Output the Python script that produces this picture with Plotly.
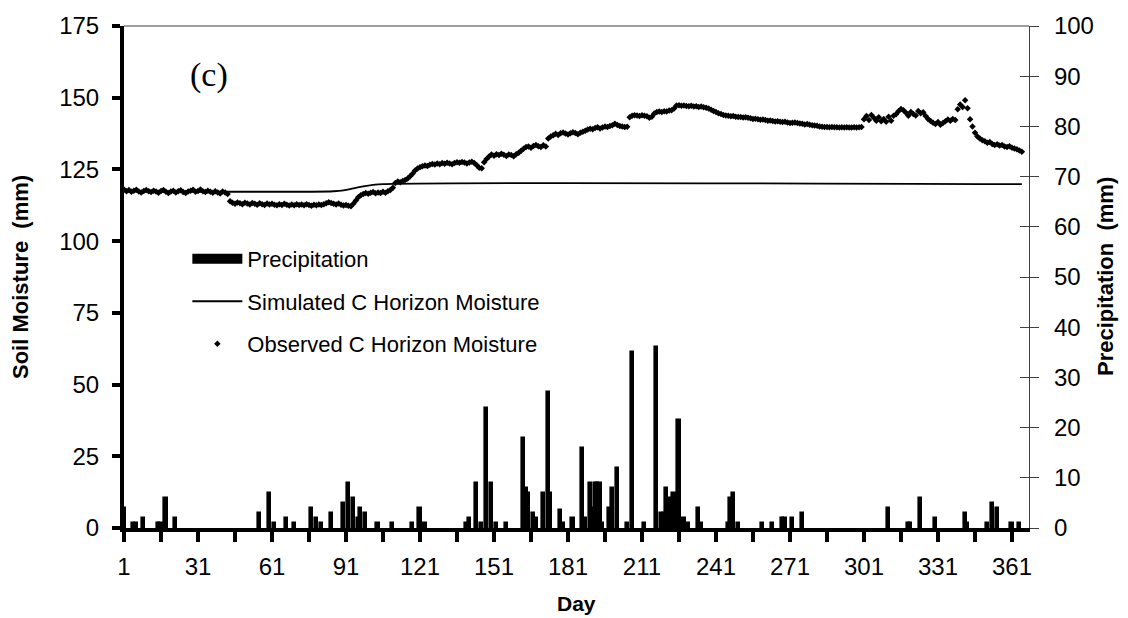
import plotly.graph_objects as go

# ---------------- data ----------------
precip_days = [1, 5, 6, 9, 15, 16, 18, 22, 56, 60, 62, 67, 70, 77, 79, 81, 85, 90, 92, 94,
               96, 97, 99, 104, 110, 118, 121, 123, 140, 141, 144, 146, 148, 150, 152, 156,
               163, 164, 165, 167, 168, 171, 173, 174, 178, 179, 183, 187, 188, 190, 191,
               192, 193, 194, 195, 198, 199, 201, 205, 207, 212, 217, 219, 220, 221, 222,
               224, 226, 228, 230, 234, 235, 246, 247, 248, 250, 260, 264, 268, 269, 272,
               276, 311, 319, 320, 324, 330, 342, 343, 351, 353, 355, 361, 364]
precip_mm = [4, 1, 1, 2, 1, 1, 6, 2, 3, 7, 1, 2, 1, 4, 2, 1, 3, 5, 9, 6,
             2, 4, 3, 1, 1, 1, 4, 1, 1, 2, 9, 1, 24, 9, 1, 1,
             18, 8, 7, 3, 2, 7, 27, 7, 3.5, 1, 2, 16, 2, 9, 4,
             9, 9, 9, 1, 4, 8, 12, 1, 35, 1, 36, 3, 3, 8, 6,
             7, 21.5, 2, 1, 4, 1, 1, 6, 7, 1, 1, 1, 2, 2, 2,
             3, 4, 1, 1, 6, 2, 3, 1, 1, 5, 4, 1, 1]

sim_days = [1, 86, 90, 94, 98, 102, 106, 365]
sim_moisture = [117.4, 117.4, 117.7, 118.4, 119.1, 119.6, 119.9, 119.9]

observed_moisture = [
    118.0, 117.4, 117.8, 117.2, 117.6, 117.9, 117.3, 117.0, 117.5, 117.8,
    117.4, 117.1, 117.6, 117.3, 116.9, 117.5, 117.8, 117.2, 116.8, 117.3,
    117.6, 117.0, 117.4, 117.7, 117.1, 116.8, 117.3, 117.6, 117.9, 117.2,
    117.5, 118.0, 117.4, 117.1, 117.6, 117.2, 116.9, 117.4, 117.0, 116.6,
    117.3, 117.0, 116.4,
    113.9, 113.4, 113.0, 113.5, 113.2, 112.9, 113.4, 113.1, 112.8, 113.3,
    113.0, 112.7, 113.2, 112.9, 112.6, 113.1, 112.8, 113.0, 112.7, 112.5,
    112.9, 112.6, 113.0, 112.7, 112.4, 112.8, 112.5, 112.9, 112.6, 112.8,
    112.5, 112.9, 112.6, 112.3, 112.7, 112.5, 112.8, 112.6, 112.9, 113.2,
    113.6, 113.3, 113.0, 112.8, 113.1, 112.7, 112.4, 112.6, 112.3, 112.2,
    113.0, 114.2, 115.3, 116.0, 116.4, 116.8, 116.5, 116.9, 117.1, 116.7,
    117.0, 116.8, 117.2, 116.9, 117.4, 117.8, 118.6,
    120.3, 120.8, 120.5, 121.0, 121.3, 121.8, 122.6, 123.5, 124.6, 125.3,
    125.8, 126.1, 126.4, 126.2, 126.6, 126.9, 126.7, 127.1, 126.8, 127.2,
    127.0, 127.3, 127.1, 126.8, 127.2, 127.5, 127.3, 127.6, 127.4, 127.1,
    127.4, 127.7, 127.2, 126.5, 125.6, 125.4,
    127.5, 128.6, 129.5, 130.2, 129.8, 130.3, 130.0, 130.5, 130.1, 129.7,
    130.2, 130.0, 129.6, 130.3, 130.8, 131.5,
    132.2, 132.8, 133.0, 132.6, 133.2, 133.5, 133.1, 132.8, 133.4, 133.0,
    135.8, 136.5, 136.9, 137.4, 137.0, 137.6, 137.9, 137.5, 137.2, 137.6,
    138.0, 137.7, 137.3, 137.8, 138.1,
    138.5, 138.9, 139.2, 139.0, 139.4, 139.7, 139.3, 139.6, 140.0, 139.8,
    140.1, 140.4, 140.9, 140.5, 140.1, 140.0, 139.8, 139.9,
    143.2, 143.7, 143.9, 143.8, 143.6, 143.9, 143.7, 143.5, 143.0, 143.4,
    144.5, 145.0, 145.2, 145.0, 145.3, 145.2, 145.5, 145.6, 146.2, 147.3,
    147.4, 147.2, 147.3, 147.1, 147.0, 147.2, 146.9, 147.0, 146.8, 146.9,
    146.7, 146.5,
    146.2, 145.8, 145.4, 145.0, 144.6, 144.3, 144.0, 143.8, 143.7, 143.5,
    143.6, 143.4, 143.3,
    143.3, 143.1, 143.2, 143.0, 142.8, 142.6, 142.7, 142.5, 142.3, 142.4,
    142.2, 142.0, 142.1, 141.9, 141.7, 141.8, 141.6, 141.5, 141.6, 141.4,
    141.2,
    141.3, 141.4, 141.2, 141.0, 140.9, 140.7, 140.8, 140.6, 140.4, 140.3,
    140.2, 140.0,
    139.9, 139.8, 139.8, 139.7, 139.8, 139.7, 139.7, 139.6, 139.7, 139.6,
    139.7, 139.6, 139.6, 139.7, 139.6, 139.7, 139.8,
    142.5, 143.6, 142.2, 144.0, 143.0, 142.0, 143.2, 141.8, 142.6, 141.6,
    143.4, 142.0, 143.7,
    144.2, 145.3, 146.1, 145.6, 144.8, 143.7, 145.0, 144.3, 143.8, 145.4,
    144.6, 144.9, 143.6,
    142.6, 141.9, 141.3, 140.8, 141.5, 140.6, 141.2, 141.8, 142.4, 142.0,
    142.6, 142.2,
    146.0, 147.6, 146.8, 149.1, 146.3, 142.5, 140.0, 137.8, 136.5, 135.8,
    135.2, 134.8, 134.3, 134.6, 133.9, 133.5, 133.8, 133.3, 133.5, 133.0,
    132.8, 133.1, 132.6, 132.3, 132.0, 131.6, 131.2,
]
observed_days = list(range(1, len(observed_moisture) + 1))

x_tick_days = [1, 16, 31, 46, 61, 76, 91, 106, 121, 136, 151, 166, 181, 196, 211,
               226, 241, 256, 271, 286, 301, 316, 331, 346, 361]
x_tick_labels = ["1", "", "31", "", "61", "", "91", "", "121", "", "151", "", "181", "",
                 "211", "", "241", "", "271", "", "301", "", "331", "", "361"]
left_ticks = [0, 25, 50, 75, 100, 125, 150, 175]
right_ticks = [0, 10, 20, 30, 40, 50, 60, 70, 80, 90, 100]

FONT = "Liberation Sans, Arial, sans-serif"
TICK_SIZE = 24

fig = go.Figure()

fig.add_trace(go.Bar(
    x=precip_days, y=precip_mm, yaxis="y2", name="Precipitation",
    width=1.3, marker=dict(color="black", line=dict(color="black", width=1.6)),
    showlegend=False,
))
# legend entry for the bars, drawn as a thick block like the original
fig.add_trace(go.Scatter(
    x=[None], y=[None], yaxis="y2", mode="lines", name="Precipitation",
    line=dict(color="black", width=14), legendgroup="a", hoverinfo="skip",
))
fig.add_trace(go.Scatter(
    x=sim_days, y=sim_moisture, mode="lines", name="Simulated C Horizon Moisture",
    line=dict(color="black", width=1.8), line_shape="spline", legendgroup="b",
))
fig.add_trace(go.Scatter(
    x=observed_days, y=observed_moisture, mode="markers",
    name="Observed C Horizon Moisture",
    marker=dict(color="black", size=5, symbol="diamond"), legendgroup="c",
))
# companion axis carrying the inner half of the right-hand cross ticks
fig.add_trace(go.Scatter(x=[1], y=[0], yaxis="y3", mode="markers",
                         marker=dict(opacity=0), showlegend=False, hoverinfo="skip"))

fig.update_layout(
    width=1128, height=618,
    margin=dict(l=124, r=99, t=19, b=90),
    paper_bgcolor="white", plot_bgcolor="white",
    font=dict(family=FONT, color="black", size=TICK_SIZE),
    bargap=0,
    showlegend=True,
    legend=dict(
        x=0.070, y=0.578, xanchor="left", yanchor="top",
        font=dict(size=22, family=FONT), bgcolor="rgba(0,0,0,0)",
        itemwidth=50, tracegroupgap=11, traceorder="grouped",
    ),
    xaxis=dict(
        range=[1, 367.9], tickmode="array", tickvals=x_tick_days, ticktext=x_tick_labels,
        showline=True, linecolor="black", linewidth=4,
        ticks="outside", ticklen=10, tickwidth=4, tickcolor="black",
        showgrid=False, zeroline=False, tickfont=dict(size=TICK_SIZE),
        ticklabelstandoff=4,
    ),
    yaxis=dict(
        range=[0, 175], tickmode="array", tickvals=left_ticks,
        showline=True, linecolor="black", linewidth=4,
        ticks="outside", ticklen=8, tickwidth=4, tickcolor="black",
        showgrid=False, zeroline=False, tickfont=dict(size=TICK_SIZE),
        ticklabelstandoff=8,
    ),
    yaxis2=dict(
        range=[0, 100], tickmode="array", tickvals=right_ticks, overlaying="y",
        side="right", showline=True, linecolor="#404040", linewidth=1.2,
        ticks="outside", ticklen=9, tickwidth=1.2, tickcolor="#404040",
        showgrid=False, zeroline=False, tickfont=dict(size=TICK_SIZE),
        ticklabelstandoff=10,
    ),
    yaxis3=dict(
        range=[0, 100], tickmode="array", tickvals=right_ticks, overlaying="y",
        side="right", showline=False, showticklabels=False,
        ticks="inside", ticklen=9, tickwidth=1.2, tickcolor="#404040",
        showgrid=False, zeroline=False,
    ),
    shapes=[dict(type="line", xref="paper", yref="paper", x0=0, x1=1, y0=1, y1=1,
                 line=dict(color="#404040", width=1.2))],
    annotations=[
        dict(text="<b>Soil Moisture  (mm)</b>", xref="paper", yref="paper",
             x=0, y=0.5, xshift=-104, xanchor="center", yanchor="middle",
             textangle=-90, showarrow=False, font=dict(size=22, family=FONT)),
        dict(text="<b>Precipitation  (mm)</b>", xref="paper", yref="paper",
             x=1, y=0.5, xshift=76, xanchor="center", yanchor="middle",
             textangle=-90, showarrow=False, font=dict(size=22, family=FONT)),
        dict(text="<b>Day</b>", xref="paper", yref="paper",
             x=0.5, y=0, yshift=-75, xanchor="center", yanchor="middle",
             showarrow=False, font=dict(size=21, family=FONT)),
        dict(text="(c)", xref="paper", yref="paper", x=0.094, y=0.902,
             xanchor="center", yanchor="middle", showarrow=False,
             font=dict(size=34, family="Liberation Serif, Times New Roman, serif")),
    ],
)

fig.write_html("out.html")
